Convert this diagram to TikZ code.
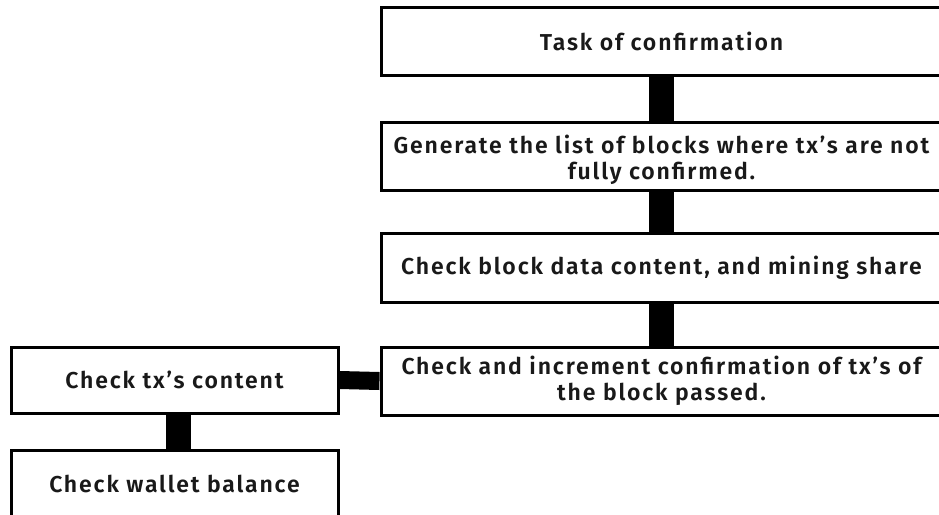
\documentclass[tikz,border=0pt]{standalone}
\usepackage{fontspec}
\setmainfont{Fira Sans}[BoldFont=* SemiBold, LetterSpace=8]
\begin{document}
\begin{tikzpicture}[x=1pt,y=-1pt,
  box/.style={draw=black, line width=3pt, fill=white, rectangle,
    inner sep=0pt, align=center, font=\bfseries\fontsize{23}{25.5}\selectfont,
    text=black!90},
  boxtext/.style={inner sep=0pt, align=center,
    font=\bfseries\fontsize{23}{25.5}\selectfont, text=black!90},
  link/.style={draw=black, line width=25pt},
  hlink/.style={draw=black, line width=18pt}]
\useasboundingbox (0,0) rectangle (939,514);
% main column (runs past the right edge of the page)
\node[box, minimum width=561pt, minimum height=68pt] (b1) at (661.5,41) {Task of confirmation};
\node[box, minimum width=561pt, minimum height=68pt] (b2) at (661.5,156) {};
\node[boxtext] (t2) at ([yshift=-4pt]b2.center) {Generate the list of blocks where tx's are not\\fully confirmed.};
\node[box, minimum width=561pt, minimum height=69pt] (b3) at (661.5,267.5) {Check block data content, and mining share};
\node[box, minimum width=561pt, minimum height=68pt] (b4) at (661.5,381) {Check and increment confirmation of tx's of\\the block passed.};
% side branch
\node[box, minimum width=327pt, minimum height=66pt] (b5) at (174.5,380) {Check tx's content};
\node[box, minimum width=327pt, minimum height=68pt] (b6) at (174.5,484) {Check wallet balance};
% connectors
\draw[link] (b1.south) -- (b2.north);
\draw[link] (b2.south) -- (b3.north);
\draw[link] (b3.south) -- (b4.north);
\draw[hlink] (b5.east) -- (b4.west);
\draw[link] ([xshift=4pt]b5.south) -- ([xshift=4pt]b6.north);
\end{tikzpicture}
\end{document}
